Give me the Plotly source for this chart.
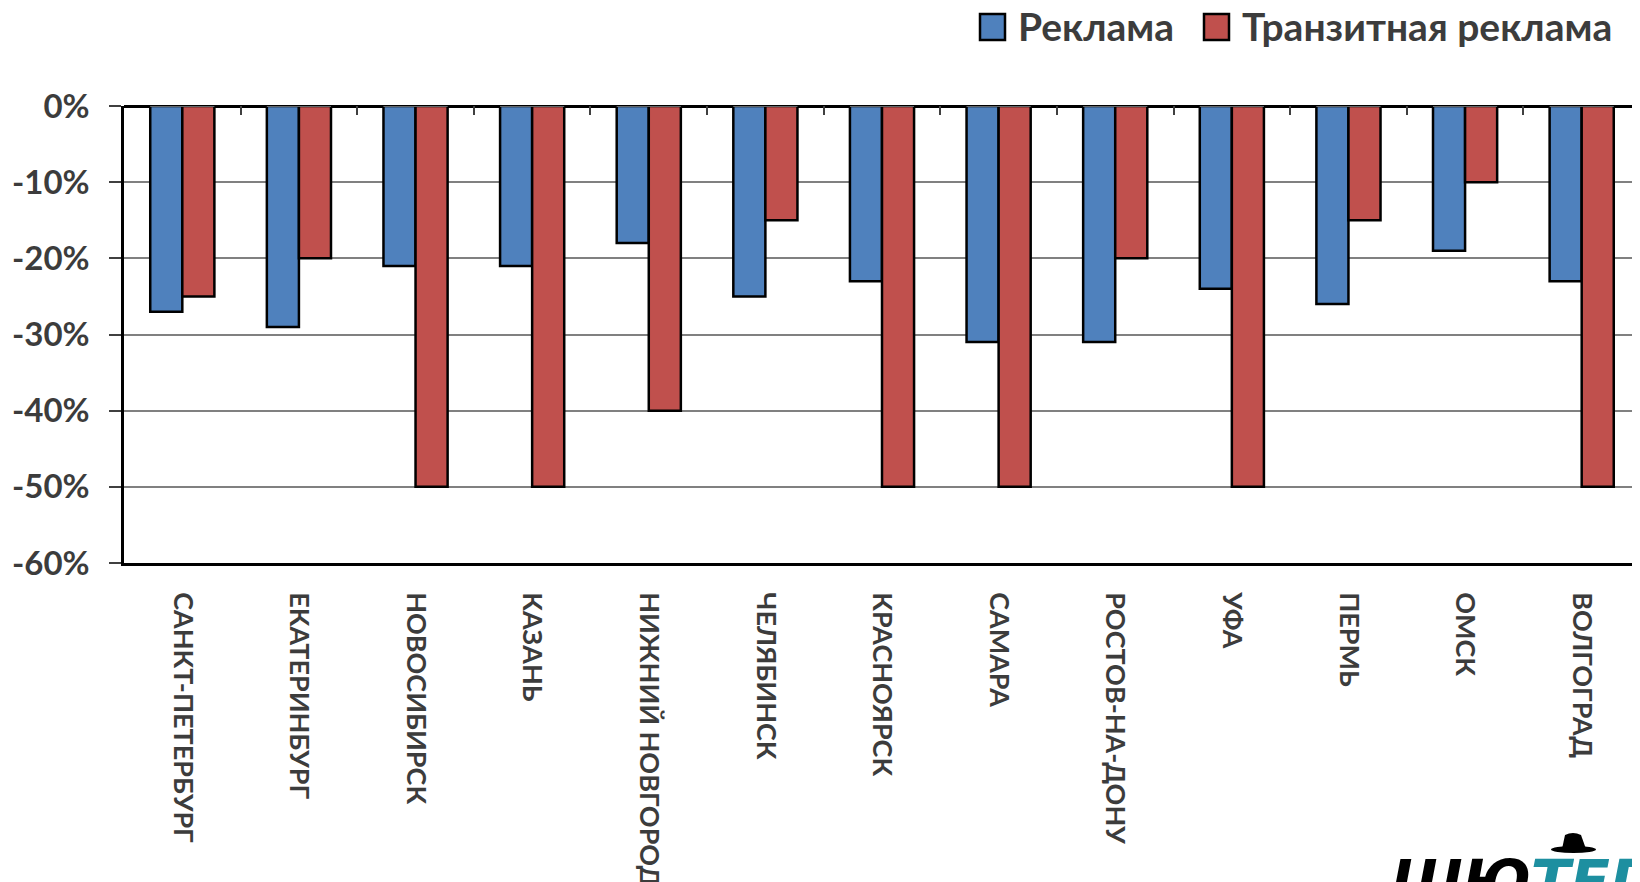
import plotly.graph_objects as go

cities = ["САНКТ-ПЕТЕРБУРГ", "ЕКАТЕРИНБУРГ", "НОВОСИБИРСК", "КАЗАНЬ", "НИЖНИЙ НОВГОРОД",
          "ЧЕЛЯБИНСК", "КРАСНОЯРСК", "САМАРА", "РОСТОВ-НА-ДОНУ", "УФА", "ПЕРМЬ", "ОМСК", "ВОЛГОГРАД"]
reklama = [-27, -29, -21, -21, -18, -25, -23, -31, -31, -24, -26, -19, -23]
tranzit = [-25, -20, -50, -50, -40, -15, -50, -50, -20, -50, -15, -10, -50]
series_names = ["Реклама", "Транзитная реклама"]
series_colors = ["#4F81BD", "#C0504D"]
ytick_vals = [0, -10, -20, -30, -40, -50, -60]
ytick_text = ["0%", "-10%", "-20%", "-30%", "-40%", "-50%", "-60%"]

FONT = "Lato"
TXT = "#3c3c3c"

# figure geometry (page has an 8px body margin)
W, H = 1632, 874
L, T, R, B = 116, 98, 0, 319
PW, PH = W - L - R, H - T - B


def px(x):
    return (x - L) / PW


def py(y):
    return (H - B - y) / PH


fig = go.Figure()
for name, vals, col in zip(series_names, [reklama, tranzit], series_colors):
    fig.add_trace(go.Bar(x=cities, y=vals, name=name, showlegend=False,
                         marker=dict(color=col, line=dict(color="black", width=2.5))))
# invisible trace to carry the top category axis (ticks on the zero line)
fig.add_trace(go.Bar(x=cities, y=[0] * len(cities), xaxis="x2", showlegend=False,
                     marker=dict(color="rgba(0,0,0,0)"), hoverinfo="skip"))

# custom legend (large square swatches)
legend_sw_x = [972, 1196]
legend_txt_x = [1008, 1232]
shapes = []
annotations = []
for name, col, sx, tx in zip(series_names, series_colors, legend_sw_x, legend_txt_x):
    shapes.append(dict(type="rect", xref="paper", yref="paper",
                       x0=px(sx), x1=px(sx + 25), y0=py(32), y1=py(6),
                       fillcolor=col, line=dict(color="black", width=2.5)))
    annotations.append(dict(xref="paper", yref="paper", x=px(tx), y=py(18),
                            xanchor="left", yanchor="middle", showarrow=False,
                            text=name, font=dict(family=FONT, size=39, color=TXT, weight="bold")))

# partial logo at bottom right
annotations.append(dict(xref="paper", yref="paper", x=px(1381), y=py(838),
                        xanchor="left", yanchor="top", showarrow=False,
                        text="<i><span style='color:black'>ШЮ</span><span style='color:#1d8fa0'>ТЕГИ</span></i>",
                        font=dict(family="DejaVu Sans", size=58, weight="bold")))
shapes.append(dict(type="circle", xref="paper", yref="paper",
                   x0=px(1543), x1=px(1588), y0=py(845), y1=py(838),
                   fillcolor="black", line=dict(width=0)))
shapes.append(dict(type="path", xref="paper", yref="paper",
                   path=f"M {px(1554)},{py(841)} L {px(1557)},{py(827)} Q {px(1565)},{py(823)} {px(1573)},{py(827)} L {px(1578)},{py(841)} Z",
                   fillcolor="black", line=dict(width=0)))

fig.update_layout(
    width=W, height=H,
    margin=dict(l=L, r=R, t=T, b=B, autoexpand=False),
    paper_bgcolor="white", plot_bgcolor="white",
    barmode="group", bargap=0.45, bargroupgap=0,
    showlegend=False,
    font=dict(family=FONT, color=TXT),
    xaxis=dict(type="category", tickangle=90, showgrid=False,
               showline=True, linecolor="black", linewidth=2.5,
               ticks="", tickfont=dict(family=FONT, size=27, color=TXT, weight="bold"),
               ticklabelstandoff=21),
    xaxis2=dict(type="category", overlaying="x", side="top", matches="x",
                showticklabels=False, ticks="inside", ticklen=9, tickwidth=1.5,
                tickcolor="#404040", tickson="boundaries", showline=False, showgrid=False),
    yaxis=dict(range=[-60, 0], tickvals=ytick_vals, ticktext=ytick_text,
               showgrid=True, gridcolor="#808080", gridwidth=1.5,
               showline=True, linecolor="black", linewidth=2.5,
               ticks="outside", ticklen=12, tickcolor="#404040", tickwidth=1.5,
               ticklabelstandoff=13,
               zeroline=True, zerolinecolor="black", zerolinewidth=2.5,
               tickfont=dict(family=FONT, size=33, color=TXT, weight="bold")),
    shapes=shapes,
    annotations=annotations,
)

fig.write_html("out.html")
